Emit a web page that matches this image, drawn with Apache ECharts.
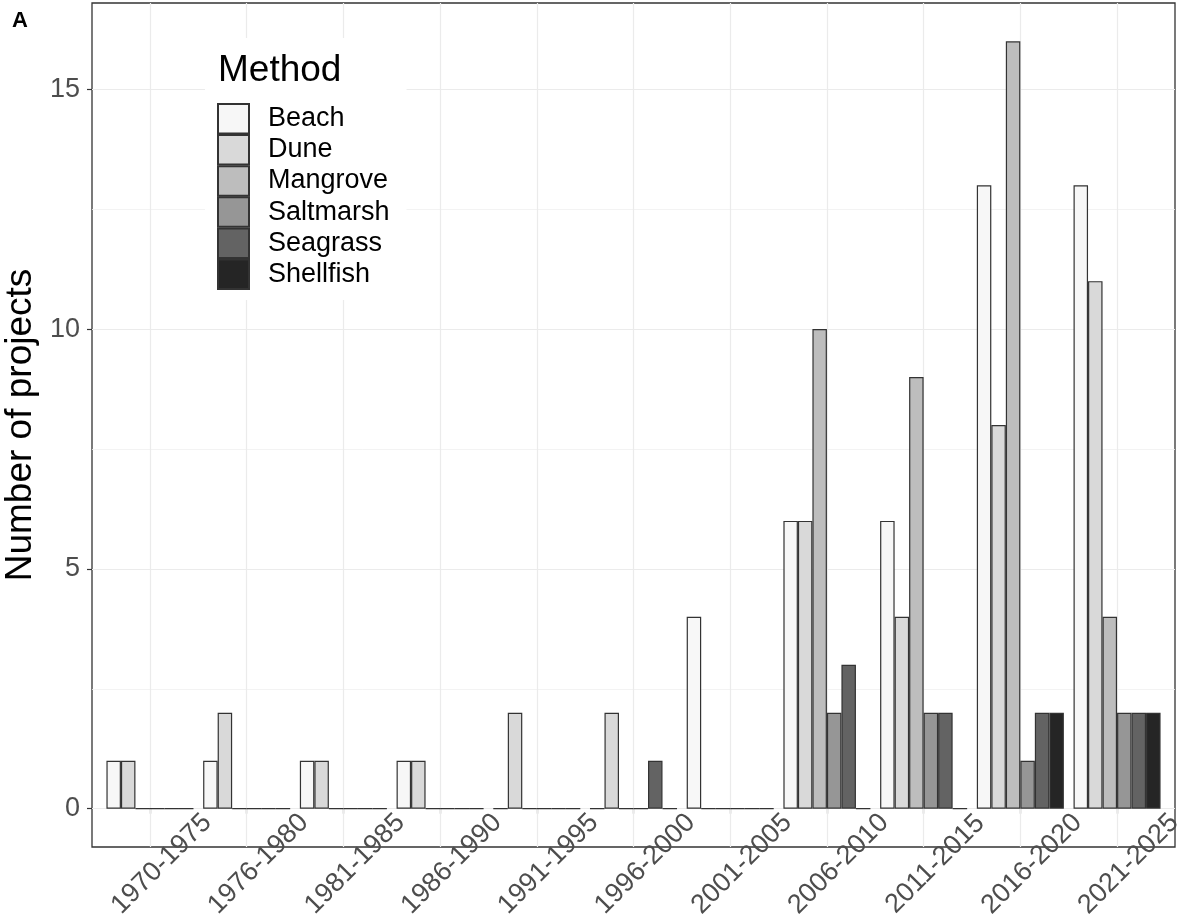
<!DOCTYPE html>
<html>
<head>
<meta charset="utf-8">
<script src="https://cdn.jsdelivr.net/npm/echarts@6/dist/echarts.min.js"></script>
<style>html,body{margin:0;padding:0;background:#fff;}#c{width:1179px;height:923px;}</style>
</head>
<body>
<div id="c"></div>
<script>
const categories = ['1970-1975','1976-1980','1981-1985','1986-1990','1991-1995','1996-2000','2001-2005','2006-2010','2011-2015','2016-2020','2021-2025'];
const methods = ['Beach','Dune','Mangrove','Saltmarsh','Seagrass','Shellfish'];
const beach     = [1,1,1,1,0,0,4,6,6,13,13];
const dune      = [1,2,1,1,2,2,0,6,4,8,11];
const mangrove  = [0,0,0,0,0,0,0,10,9,16,4];
const saltmarsh = [0,0,0,0,0,0,0,2,2,1,2];
const seagrass  = [0,0,0,0,0,1,0,3,2,2,2];
const shellfish = [0,0,0,0,0,0,0,0,0,2,2];
const yTicks = [0,5,10,15];
const yMinor = [2.5,7.5,12.5];
const colors = ['#F7F7F7','#D9D9D9','#BDBDBD','#969696','#636363','#252525'];

const seriesValues = [beach, dune, mangrove, saltmarsh, seagrass, shellfish];
const FONT = "'Liberation Sans', Arial, sans-serif";

const chart = echarts.init(document.getElementById('c'), null, {renderer:'canvas'});

const barSeries = methods.map((m, i) => ({
  name: m,
  type: 'bar',
  xAxisIndex: 0, yAxisIndex: 0,
  data: seriesValues[i],
  barGap: '0%',
  barCategoryGap: '10%',
  itemStyle: { color: colors[i], borderColor: '#333333', borderWidth: 1.2 },
  emphasis: { disabled: true },
  z: 3
}));

const option = {
  animation: false,
  textStyle: { fontFamily: FONT },
  title: [
    { text: 'A', left: 7, top: 5, textStyle: { fontFamily: FONT, fontSize: 22, fontWeight: 'bold', color: '#000' } },
    { text: 'Method', left: 213, top: 47, z: 10, textStyle: { fontFamily: FONT, fontSize: 37, fontWeight: 'normal', color: '#000' } }
  ],
  legend: {
    data: methods,
    orient: 'vertical',
    left: 205, top: 38,
    padding: [65, 17, 10, 12],
    backgroundColor: '#ffffff',
    itemWidth: 31, itemHeight: 29.5, itemGap: -0.4,
    icon: 'rect',
    selectedMode: false,
    textStyle: { fontFamily: FONT, fontSize: 27, color: '#000', lineHeight: 28, padding: [0,0,0,14] },
    z: 5
  },
  grid: [
    { left: 101.6, right: 13.6, top: 3, bottom: 76, containLabel: false, outerBoundsMode: 'none' },
    { left: 92, right: 4, top: 3, bottom: 76, show: true, borderColor: '#333333', borderWidth: 1.3, backgroundColor: 'transparent', z: 0, outerBoundsMode: 'none' }
  ],
  xAxis: [
    {
      type: 'category', gridIndex: 0, data: categories,
      axisLine: { show: false },
      axisTick: { show: true, alignWithLabel: true, length: 5, lineStyle: { color: '#333333', width: 1.2 } },
      axisLabel: { interval: 0, rotate: 45, fontFamily: FONT, fontSize: 27, color: '#4d4d4d',
                   align: 'center', verticalAlign: 'middle', margin: 28.7, padding: [0,0,0,33], hideOverlap: false },
      splitLine: { show: false }
    },
    { type: 'value', gridIndex: 1, min: 0, max: 1, show: false }
  ],
  yAxis: [
    {
      type: 'value', gridIndex: 0, min: -0.8, max: 16.8, offset: 9.6,
      axisLine: { show: false },
      axisTick: { show: true, length: 5, customValues: yTicks, lineStyle: { color: '#333333', width: 1.2 } },
      axisLabel: { customValues: yTicks, fontFamily: FONT, fontSize: 27, color: '#4d4d4d', margin: 12 },
      splitLine: { show: false },
      name: 'Number of projects', nameLocation: 'middle', nameGap: 41,
      nameTextStyle: { fontFamily: FONT, fontSize: 37, color: '#000' }
    },
    { type: 'value', gridIndex: 1, min: -0.8, max: 16.8, show: false }
  ],
  series: [
    {
      type: 'line', xAxisIndex: 1, yAxisIndex: 1, data: [], silent: true,
      markLine: {
        silent: true, symbol: 'none', label: { show: false }, z: 1,
        lineStyle: { color: '#ebebeb', type: 'solid', width: 1.2 },
        data: yTicks.map(v => ({ yAxis: v })).concat(yMinor.map(v => ({ yAxis: v, lineStyle: { color: '#f0f0f0', width: 0.8, type: 'solid' } })))
      }
    },
    {
      type: 'line', xAxisIndex: 0, yAxisIndex: 0, data: [], silent: true,
      markLine: {
        silent: true, symbol: 'none', label: { show: false }, z: 1,
        lineStyle: { color: '#ebebeb', type: 'solid', width: 1.2 },
        data: categories.map(c => ({ xAxis: c }))
      }
    }
  ].concat(barSeries)
};
chart.setOption(option);
</script>
</body>
</html>
